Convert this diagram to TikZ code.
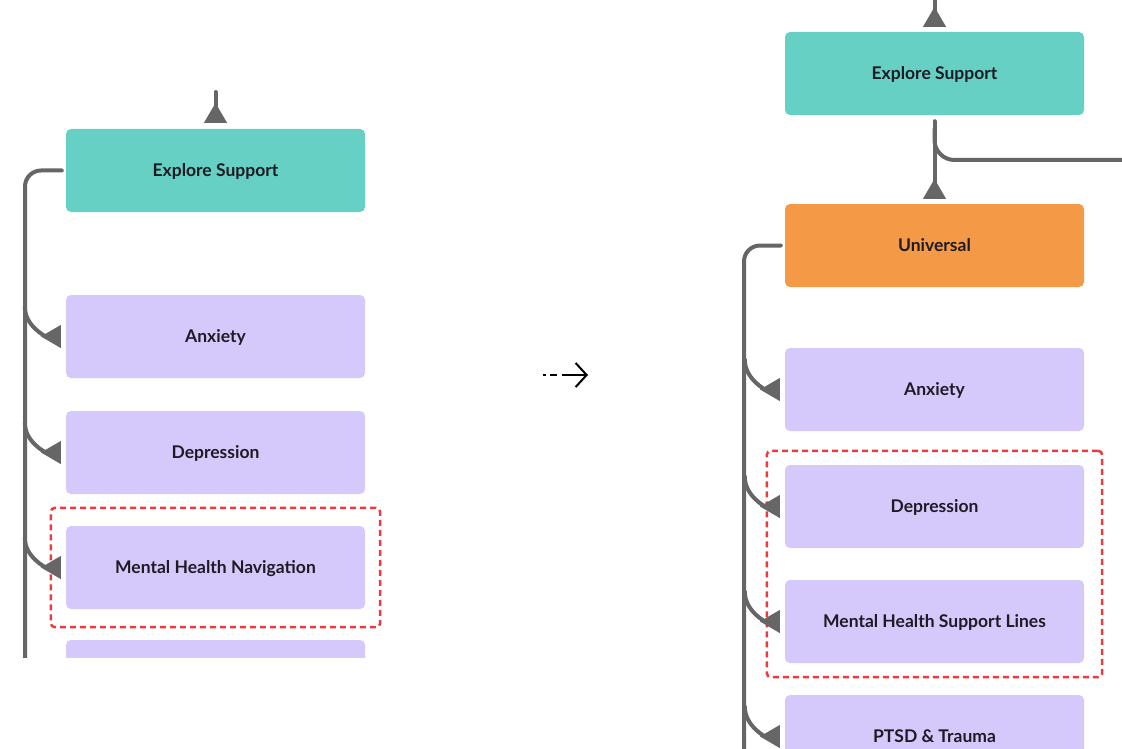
\documentclass[tikz,border=0pt]{standalone}
\usepackage{fontspec}
\setmainfont{Lato}
\usetikzlibrary{arrows.meta, positioning, calc, fit}
\definecolor{tealbox}{HTML}{66D0C4}
\definecolor{lavender}{HTML}{D5C9FB}
\definecolor{orangebox}{HTML}{F49A46}
\definecolor{wiregray}{HTML}{666666}
\definecolor{hired}{HTML}{EB3B3F}
\definecolor{inkdark}{HTML}{1E1B24}

\tikzset{
  card/.style={rounded corners=5pt, minimum width=299pt, minimum height=83pt, inner sep=0pt,
    text height=12.5pt, text depth=0pt,
    font=\bfseries\fontsize{17.5}{20}\selectfont, text=inkdark},
  wire/.style={draw=wiregray, line width=4pt, line cap=round},
  headtip/.style={-{Triangle[reversed, length=20pt, width=22pt]}, shorten >=5pt},
  hilite/.style={draw=hired, line width=2.5pt, rounded corners=4pt, dash pattern=on 6pt off 4pt}
}

\begin{document}
\begin{tikzpicture}[x=1pt, y=-1pt]
  \useasboundingbox (0,0) rectangle (1122,749);
  \begin{scope}
    \clip (0,0) rectangle (1122,749);

    % before
    \begin{scope}
      \clip (0,0) rectangle (400,657);
      \node[card, fill=tealbox] (es1) at (215.5,170.5) {Explore Support};
      \node[card, fill=lavender] (anx1) at (215.5,336.5) {Anxiety};
      \node[card, fill=lavender] (dep1) at (215.5,452.5) {Depression};
      \node[card, fill=lavender] (mhn1) at (215.5,567.5) {Mental Health Navigation};
      \node[card, fill=lavender] (more1) at (215.5,681.5) {};
      \node[hilite, fit=(mhn1), inner xsep=15pt, inner ysep=18pt] (sel1) {};

      \coordinate (topL) at (215.5,92);
      \coordinate (trunkL) at (25,665);
      \draw[wire, headtip, shorten >=6pt] (topL) -- (es1.north);
      \draw[wire, rounded corners=16pt] ([xshift=-4pt]es1.west) -| (trunkL);
      \foreach \b in {anx1,dep1,mhn1}
        \draw[wire, headtip] ($(\b.west)+(-41,-30)$) to[out=-90, in=180] (\b.west);
    \end{scope}

    % arrow between
    \coordinate (arrA) at (543,375);
    \coordinate (arrB) at (588,375);
    \draw[line width=2pt, dash pattern=on 3pt off 4pt on 7pt off 5pt on 40pt,
      -{Straight Barb[length=11pt, width=24pt]}] (arrA) -- (arrB);

    % after
    \node[card, fill=tealbox] (es2) at (934.5,73.5) {Explore Support};
    \node[card, fill=orangebox] (univ) at (934.5,245.5) {Universal};
    \node[card, fill=lavender] (anx2) at (934.5,389.5) {Anxiety};
    \node[card, fill=lavender] (dep2) at (934.5,506.5) {Depression};
    \node[card, fill=lavender] (mhsl2) at (934.5,621.5) {Mental Health Support Lines};
    \node[card, fill=lavender] (ptsd2) at (934.5,736.5) {PTSD \& Trauma};
    \node[hilite, fit=(dep2)(mhsl2), inner xsep=18pt, inner ysep=14pt] (sel2) {};

    \coordinate (topR) at (934.5,-5);
    \coordinate (exitR) at (1130,160);
    \coordinate (trunkR) at (744,760);
    \draw[wire, headtip] (topR) -- (es2.north);
    \draw[wire, headtip] ([yshift=-6pt]es2.south) -- (univ.north);
    \draw[wire, rounded corners=20pt] ($(es2.south)+(0,14)$) |- (exitR);
    \draw[wire, rounded corners=16pt] ([xshift=-4pt]univ.west) -| (trunkR);
    \foreach \b in {anx2,dep2,mhsl2,ptsd2}
      \draw[wire, headtip] ($(\b.west)+(-40,-30)$) to[out=-90, in=180] (\b.west);
  \end{scope}
\end{tikzpicture}
\end{document}
